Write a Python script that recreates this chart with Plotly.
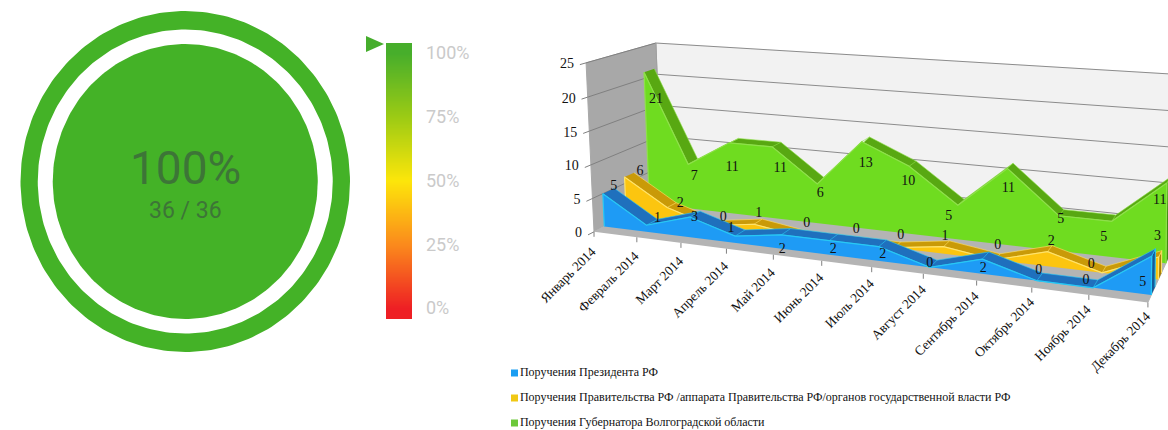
import numpy as np
import plotly.graph_objects as go

W, H = 1168, 430

# ---- data ----
months = ["Январь 2014", "Февраль 2014", "Март 2014", "Апрель 2014", "Май 2014", "Июнь 2014",
          "Июль 2014", "Август 2014", "Сентябрь 2014", "Октябрь 2014", "Ноябрь 2014", "Декабрь 2014"]
president = [5, 1, 3, 1, 2, 2, 2, 0, 2, 0, 0, 5]
government = [6, 2, 0, 1, 0, 0, 0, 1, 0, 2, 0, 3]
governor = [21, 7, 11, 11, 6, 13, 10, 5, 11, 5, 5, 11]
series_names = ["Поручения Президента РФ",
                "Поручения Правительства РФ /аппарата Правительства РФ/органов государственной власти РФ",
                "Поручения Губернатора Волгоградской области"]
value_ticks = [0, 5, 10, 15, 20, 25]
gauge_done = 36
gauge_total = 36
gauge_pct = 100
gauge_ticks = [0, 25, 50, 75, 100]

# ---- perspective scale of the 3D box: (month, value, depth) -> screen ----
calib_world = [(0, 0, 0), (0, 25, 0), (0, 0, 1), (0, 25, 1), (11, 0, 0), (11, 0, 1), (11, 25, 1)]
calib_screen = [(595, 232), (585, 63), (661, 197), (657, 43), (1148, 302), (1170, 255), (1172, 74)]
A, b = [], []
for (X, Y, Z), (u, v) in zip(calib_world, calib_screen):
    A.append([X, Y, Z, 1, 0, 0, 0, 0, -u * X, -u * Y, -u * Z]); b.append(u)
    A.append([0, 0, 0, 0, X, Y, Z, 1, -v * X, -v * Y, -v * Z]); b.append(v)
m = np.linalg.lstsq(np.array(A, float), np.array(b, float), rcond=None)[0]


def project(X, Y, Z):
    w = m[8] * X + m[9] * Y + m[10] * Z + 1
    return (m[0] * X + m[1] * Y + m[2] * Z + m[3]) / w, (m[4] * X + m[5] * Y + m[6] * Z + m[7]) / w


def poly(points):
    xy = [project(*p) for p in points]
    return [p[0] for p in xy] + [None], [p[1] for p in xy] + [None]


def polys(list_of_points):
    xs, ys = [], []
    for pts in list_of_points:
        a, c = poly(pts)
        xs += a
        ys += c
    return xs, ys


fig = go.Figure()


def fill(xs, ys, color, line=None, lw=1):
    fig.add_trace(go.Scatter(x=xs, y=ys, mode="lines", fill="toself", fillcolor=color,
                             line=dict(color=line or color, width=lw), hoverinfo="skip",
                             xaxis="x", yaxis="y"))


def lines(segments, color, lw=1):
    xs, ys = [], []
    for a, c in segments:
        pa, pc = project(*a), project(*c)
        xs += [pa[0], pc[0], None]
        ys += [pa[1], pc[1], None]
    fig.add_trace(go.Scatter(x=xs, y=ys, mode="lines", line=dict(color=color, width=lw),
                             hoverinfo="skip", xaxis="x", yaxis="y"))


# ---- left gauge: ring and disc sweep gauge_done / gauge_total of the turn ----
cx, cy = 185.25, 181.5
ring_outer, ring_inner, disc = (164.75, 170.5), (147.5, 152), (132.5, 137.5)
gauge_color = "#44b227"
sweep = np.linspace(0, 2 * np.pi * gauge_done / gauge_total, 241) - np.pi / 2
ox, oy = cx + ring_outer[0] * np.cos(sweep), cy + ring_outer[1] * np.sin(sweep)
ix, iy = cx + ring_inner[0] * np.cos(sweep[::-1]), cy + ring_inner[1] * np.sin(sweep[::-1])
fig.add_trace(go.Scatter(x=list(ox) + list(ix), y=list(oy) + list(iy), mode="lines", fill="toself",
                         fillcolor=gauge_color, line=dict(width=0, color=gauge_color), hoverinfo="skip",
                         xaxis="x", yaxis="y"))
dx, dy = cx + disc[0] * np.cos(sweep), cy + disc[1] * np.sin(sweep)
fig.add_trace(go.Scatter(x=dx, y=dy, mode="lines", fill="toself",
                         fillcolor=gauge_color, line=dict(width=0, color=gauge_color), hoverinfo="skip",
                         xaxis="x", yaxis="y"))

# walls and floor
last = len(months) - 1
top = value_ticks[-1]
fill(*poly([(0, 0, 1), (0, top, 1), (last, top, 1), (last, 0, 1)]), "#f2f2f2")
fill(*poly([(0, 0, 0), (0, top, 0), (0, top, 1), (0, 0, 1)]), "#a8a8a8")
fill(*poly([(0, 0, 0), (0, 0, 1), (last, 0, 1), (last, 0, 0)]), "#b4b4b4")
lines([((0, v, 1), (last, v, 1)) for v in value_ticks[1:]], "#8c8c8c")
lines([((0, v, 0), (0, v, 1)) for v in value_ticks[1:]], "#808080")
lines([((0, top, 1), (0, 0, 1))], "#a0a0a0")
lines([((0, v, -0.08), (0, v, 0)) for v in value_ticks], "#808080")

# series, back to front: top ribbon and end face first, then the front face over them
depths = [(0.80, 0.96), (0.45, 0.59), (0.14, 0.30)]
styles = [("#6fdc20", "#58a812", "#8ee04a", "#3f8a10"),
          ("#fcc50f", "#c99a08", "#ffe36a", "#a88006"),
          ("#1e9bf5", "#1f70bd", "#27c8f5", "#155a99")]
for values, (z0, z1), (front, ribbon, edge, endc) in zip([governor, government, president], depths, styles):
    quads = [[(i, values[i], z0), (i + 1, values[i + 1], z0), (i + 1, values[i + 1], z1), (i, values[i], z1)]
             for i in range(last)]
    fill(*poly([(last, 0, z0), (last, values[last], z0), (last, values[last], z1), (last, 0, z1)]), endc, edge)
    fill(*polys(quads), ribbon, edge, 0.6)
    outline = [(0, 0, z0)] + [(i, values[i], z0) for i in range(last + 1)] + [(last, 0, z0)]
    fill(*poly(outline), front, edge, 1.2)

# tick marks under the floor
tx, ty = [], []
for i in range(last + 1):
    px, py = project(i, 0, 0)
    tx += [px, px, None]
    ty += [py, py + 5, None]
fig.add_trace(go.Scatter(x=tx, y=ty, mode="lines", line=dict(color="#808080", width=1),
                         hoverinfo="skip", xaxis="x", yaxis="y"))

# value axis labels
pts = [project(0, v, 0) for v in value_ticks]
fig.add_trace(go.Scatter(x=[p[0] - 12 for p in pts], y=[p[1] + 2 for p in pts], mode="text",
                         text=[str(v) for v in value_ticks], textposition="middle left",
                         textfont=dict(family="Liberation Serif", size=14, color="#111111"),
                         hoverinfo="skip", xaxis="x", yaxis="y"))

# data labels: placement offsets in pixels from the projected value
label_offsets = {
    "president": [(11, -7), (11, -7), (5, 0), (-4, -8), (1, 15), (4, 9), (4, 8), (0, -4), (1, 9), (2, -10), (-7, -7), (-9, 26)],
    "government": [(10, -3), (8, -1), (8, -5), (0, -8), (3, -10), (6, -9), (3, -9), (-2, -7), (0, -11), (1, -7), (-13, -5), (-3, -17)],
    "governor": [(12, 27), (6, 12), (3, 25), (8, 22), (3, 10), (4, 22), (-1, 15), (-9, 11), (1, 20), (2, 4), (-8, 16), (-7, 17)],
}
for values, key, z0 in [(governor, "governor", 0.80), (government, "government", 0.53), (president, "president", 0.14)]:
    pts = [project(i, v, z0) for i, v in enumerate(values)]
    fig.add_trace(go.Scatter(x=[p[0] + o[0] for p, o in zip(pts, label_offsets[key])],
                             y=[p[1] + o[1] for p, o in zip(pts, label_offsets[key])],
                             mode="text", text=[str(v) for v in values], textposition="middle center",
                             textfont=dict(family="Liberation Serif", size=14, color="#111111"),
                             hoverinfo="skip", xaxis="x", yaxis="y", cliponaxis=True))

# legend
legend_y = [373, 398, 423]
legend_colors = ["#1b9ef2", "#f0c814", "#6cc83a"]
fig.add_trace(go.Scatter(x=[514.5] * 3, y=legend_y, mode="markers+text", text=series_names,
                         textposition="middle right",
                         marker=dict(symbol="square", size=7, color=legend_colors),
                         textfont=dict(family="Liberation Serif", size=12, color="#111111"),
                         hoverinfo="skip", xaxis="x", yaxis="y"))

# color bar: value axis runs slightly past 0..100 as in the reference
bar_range = [-4.3, 103.9]
bar_y = list(np.arange(bar_range[0], bar_range[1] + 0.5, 1.0))
fig.add_trace(go.Heatmap(x=[0, 1], y=bar_y, z=[[v, v] for v in bar_y], zmin=0, zmax=100, zsmooth="best",
                         colorscale=[[0, "#ee1f24"], [0.25, "#fb8a1c"], [0.5, "#fde60a"], [0.75, "#9ccb14"], [1, "#47ae2b"]],
                         showscale=False, hoverinfo="skip", xaxis="x2", yaxis="y2"))

# pointer on the bar
py = 308 - gauge_pct * 2.55 - 9
fig.add_trace(go.Scatter(x=[366, 384, 366, 366], y=[py - 8, py, py + 8, py - 8], mode="lines", fill="toself",
                         fillcolor="#45ad2c", line=dict(color="#45ad2c", width=0), hoverinfo="skip",
                         xaxis="x", yaxis="y"))

fig.update_layout(
    width=W, height=H, margin=dict(l=0, r=0, t=0, b=0), showlegend=False,
    paper_bgcolor="white", plot_bgcolor="rgba(0,0,0,0)",
    xaxis=dict(domain=[0, 1], range=[0, W], visible=False, fixedrange=True),
    yaxis=dict(domain=[0, 1], range=[H, 0], visible=False, fixedrange=True),
    xaxis2=dict(domain=[386 / W, 412 / W], range=[0, 1], visible=False, anchor="y2"),
    yaxis2=dict(domain=[1 - 319 / H, 1 - 43 / H], range=bar_range, anchor="x2", side="right",
                tickvals=gauge_ticks, ticktext=[f"{t}%" for t in gauge_ticks], showgrid=False, zeroline=False,
                showline=False, ticks="", ticklabelstandoff=13,
                tickfont=dict(family="Roboto", size=18, color="#cacaca")),
)

anns = [
    dict(x=cx, y=167.5, text=f"{gauge_pct}%", font=dict(family="Roboto", size=46, color="#3d7537")),
    dict(x=cx, y=210.5, text=f"{gauge_done} / {gauge_total}", font=dict(family="Roboto", size=23, color="#3d7537")),
]
for i, name in enumerate(months):
    px, py2 = project(i, 0, 0)
    anns.append(dict(x=px + 8, y=py2 + 9 - 0.55 * i, text=name, textangle=-45, xanchor="right", yanchor="top",
                     font=dict(family="Liberation Serif", size=13.5, color="#111111")))
for a in anns:
    a.setdefault("xref", "x")
    a.setdefault("yref", "y")
    a.setdefault("showarrow", False)
fig.update_layout(annotations=anns)

smooth = ("document.body.style.margin='0';"
          "var s=document.createElement('style');"
          "s.textContent='path{shape-rendering:geometricPrecision !important}';"
          "document.head.appendChild(s);")
fig.write_html("out.html", config={"displayModeBar": False}, post_script=smooth)
